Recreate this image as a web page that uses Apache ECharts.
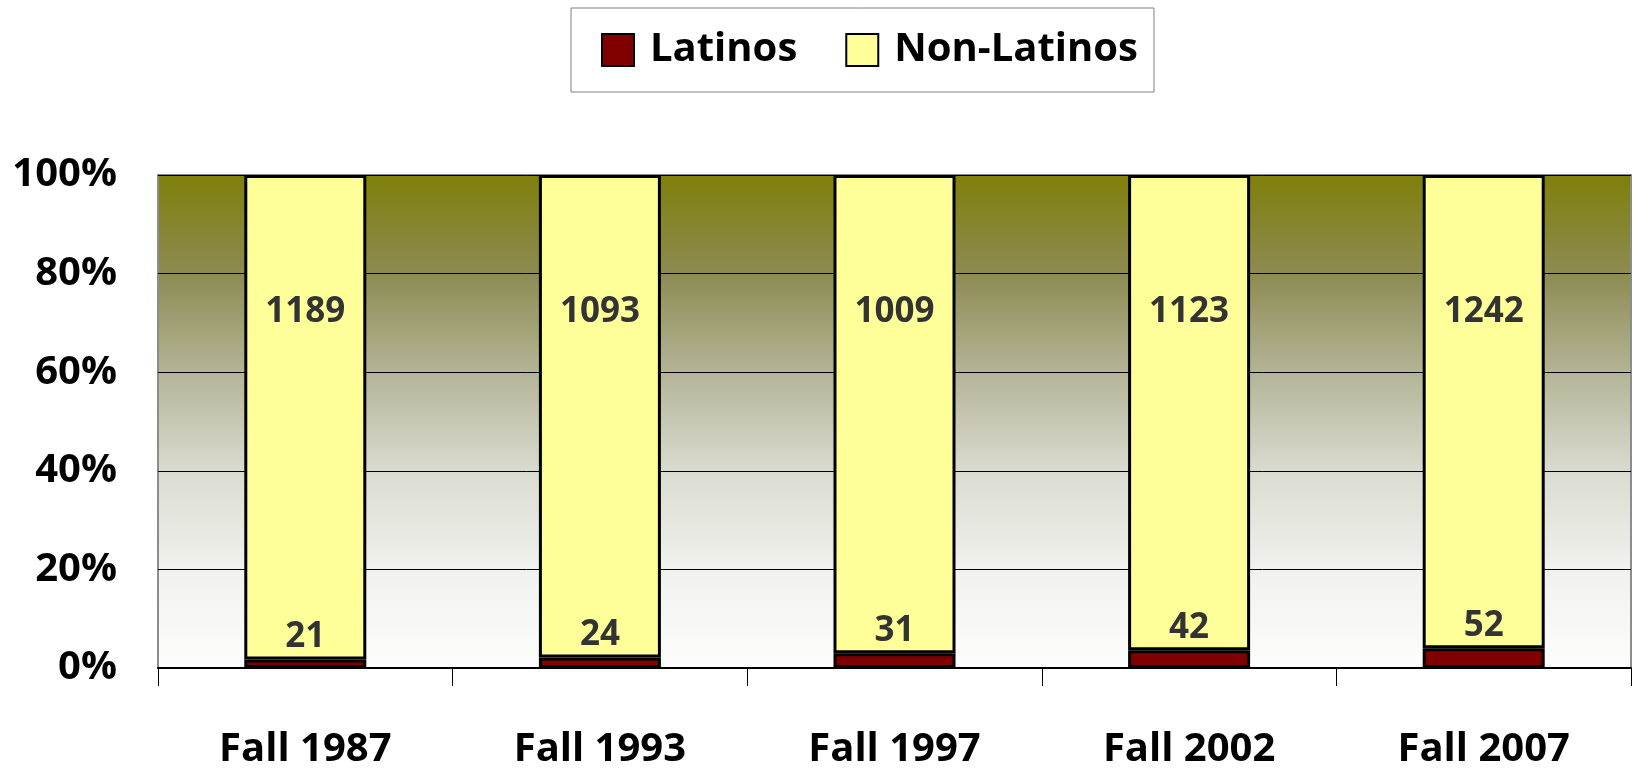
<!DOCTYPE html>
<html lang="en">

<head>
    <meta charset="UTF-8">
    <title>Latinos vs Non-Latinos</title>
    <script src="https://cdn.jsdelivr.net/npm/echarts@6.0.0/dist/echarts.min.js"></script>
    <style>
        html, body { margin: 0; padding: 0; background: #fff; }
    </style>
</head>

<body>
    <div id="main" style="width: 1637px;height:771px;"></div>
    <script type="text/javascript">
    // chart data
    const terms = ['Fall 1987', 'Fall 1993', 'Fall 1997', 'Fall 2002', 'Fall 2007'];
    const latinos = [21, 24, 31, 42, 52];
    const nonLatinos = [1189, 1093, 1009, 1123, 1242];

    // 100% stacked: turn counts into shares of each term's total
    const totals = latinos.map((v, i) => v + nonLatinos[i]);
    const latinoPct = latinos.map((v, i) => v / totals[i] * 100);
    const nonLatinoPct = nonLatinos.map((v, i) => v / totals[i] * 100);

    const font = '"Open Sans", "DejaVu Sans", sans-serif';
    const chart = echarts.init(document.getElementById('main'));

    chart.setOption({
      animation: false,
      legend: {
        left: 571,
        top: 8,
        padding: [22, 16, 22, 30],
        borderColor: '#808080',
        borderWidth: 1,
        icon: 'rect',
        itemWidth: 32,
        itemHeight: 32,
        itemGap: 48,
        textStyle: { fontFamily: font, fontSize: 40, fontWeight: 'bold', color: '#000', padding: [0, 0, 0, 11] },
        data: ['Latinos', 'Non-Latinos']
      },
      grid: {
        left: 158,
        right: 6,
        top: 175,
        bottom: 103,
        show: true,
        borderColor: '#8c8c8c',
        borderWidth: 2,
        backgroundColor: new echarts.graphic.LinearGradient(0, 0, 0, 1, [
          { offset: 0, color: '#7f7f0a' },
          { offset: 0.2, color: '#8c8b52' },
          { offset: 0.4, color: '#b4b496' },
          { offset: 0.6, color: '#dadbd0' },
          { offset: 0.8, color: '#f1f1ee' },
          { offset: 1, color: '#fdfdfd' }
        ])
      },
      xAxis: {
        type: 'category',
        data: terms,
        axisLine: { lineStyle: { color: '#000', width: 2 } },
        axisTick: { show: true, length: 18, lineStyle: { color: '#000', width: 1 } },
        axisLabel: { margin: 62, fontFamily: font, fontSize: 40, fontWeight: 'bold', color: '#000' }
      },
      yAxis: {
        type: 'value',
        min: 0,
        max: 100,
        interval: 20,
        axisLine: { show: false },
        axisTick: { show: false },
        splitLine: { lineStyle: { color: '#000', width: 1 } },
        axisLabel: { formatter: '{value}%', margin: 41, fontFamily: font, fontSize: 40, fontWeight: 'bold', color: '#000' }
      },
      series: [
        {
          name: 'Latinos',
          type: 'bar',
          stack: 'all',
          barWidth: 122,
          data: latinoPct,
          itemStyle: { color: '#800000', borderColor: '#000', borderWidth: 3 },
          label: {
            show: true,
            position: 'top',
            distance: 5,
            formatter: p => latinos[p.dataIndex],
            fontFamily: font, fontSize: 35, fontWeight: 'bold', color: '#333'
          }
        },
        {
          name: 'Non-Latinos',
          type: 'bar',
          stack: 'all',
          barWidth: 122,
          data: nonLatinoPct,
          itemStyle: { color: '#ffff99', borderColor: '#000', borderWidth: 3 },
          label: {
            show: true,
            position: ['50%', 137],
            align: 'center',
            verticalAlign: 'middle',
            formatter: p => nonLatinos[p.dataIndex],
            fontFamily: font, fontSize: 35, fontWeight: 'bold', color: '#333'
          }
        }
      ]
    });
    </script>
</body>

</html>
